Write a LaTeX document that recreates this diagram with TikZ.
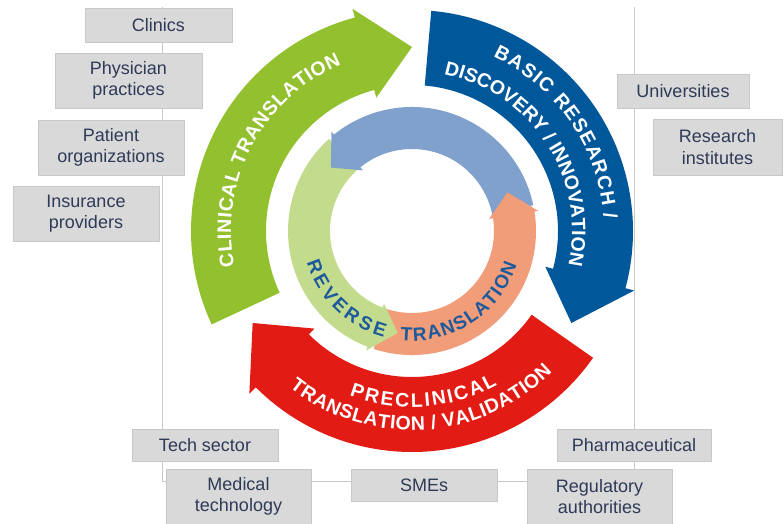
\documentclass[tikz,border=0pt]{standalone}
\usepackage{fontspec}
\setmainfont{Liberation Sans}
\usetikzlibrary{decorations.text}
\definecolor{cgreen}{RGB}{147,192,47}
\definecolor{cblue}{RGB}{0,88,155}
\definecolor{cred}{RGB}{226,27,20}
\definecolor{clblue}{RGB}{128,161,203}
\definecolor{clgreen}{RGB}{195,219,140}
\definecolor{csalmon}{RGB}{242,157,122}
\definecolor{ctext}{RGB}{28,90,156}
\definecolor{boxfill}{RGB}{217,217,217}
\definecolor{boxline}{RGB}{200,200,200}
\definecolor{boxtext}{RGB}{46,58,87}
\definecolor{frameline}{RGB}{200,200,200}
\newcommand{\boxfnt}{\fontsize{18}{21.6}\selectfont}
\newcommand{\bigtxt}{\fontsize{19.5}{19.5}\selectfont\bfseries}
\newcommand{\innertxt}{\fontsize{19}{19}\selectfont\bfseries}
\newcommand{\bigarrow}[2]{%
  \pgfmathsetmacro{\myba}{#2-100}\pgfmathsetmacro{\mybt}{#2-115}%
  \fill[#1] (#2:221) arc[start angle=#2, end angle=\myba, radius=221]
    -- (\myba:230) -- (\mybt:184) -- (\myba:138) -- (\myba:146)
    arc[start angle=\myba, end angle=#2, radius=146] -- cycle;}
\newcommand{\innerbody}[3]{%
  \pgfmathsetmacro{\myie}{#3+1}%
  \fill[#1] (#2:124) arc[start angle=#2, end angle=\myie, radius=124]
    -- (\myie:82) arc[start angle=\myie, end angle=#2, radius=82] -- cycle;}
\newcommand{\innerhead}[2]{%
  \pgfmathsetmacro{\myit}{#2+13}%
  \fill[#1] (#2:128) -- (\myit:103) -- (#2:78) -- cycle;}
\begin{document}
\begin{tikzpicture}[x=1pt,y=-1pt,
  box/.style={fill=boxfill, draw=boxline, line width=0.6pt, text=boxtext,
    font=\boxfnt, align=center, inner sep=0pt},
  frameln/.style={draw=frameline, line width=0.8pt}]
\useasboundingbox (0,0) rectangle (784,524);
\coordinate (f1) at (162,7);
\coordinate (f2) at (162,481);
\coordinate (f3) at (634,481);
\coordinate (f4) at (634,7);
\draw[frameln] (f1) -- (f2) -- (f3) -- (f4);

\begin{scope}[shift={(412,231)}, y=1pt]
  \bigarrow{cgreen}{205}
  \bigarrow{cblue}{85}
  \bigarrow{cred}{325}
  \innerbody{clblue}{12}{129}
  \innerbody{clgreen}{132}{249}
  \innerbody{csalmon}{252}{369}
  \innerhead{clblue}{129}
  \innerhead{clgreen}{249}
  \innerhead{csalmon}{369}
  \path[decorate, decoration={text along path, text align={fit to path},
      text color=white, text={|\bigtxt|CLINICAL TRANSLATION}}]
    (191.3:181) arc[start angle=191.3, end angle=113, radius=181];
  \path[decorate, decoration={text along path, text align={fit to path},
      text color=white, text={|\bigtxt|BASIC RESEARCH /}}]
    (65:192) arc[start angle=65, end angle=3.5, radius=192];
  \path[decorate, decoration={text along path, text align={fit to path},
      text color=white, text={|\bigtxt|DISCOVERY / INNOVATION}}]
    (78.5:160) arc[start angle=78.5, end angle=-11.2, radius=160];
  \path[decorate, decoration={text along path, text align={fit to path},
      text color=white, text={|\bigtxt|PRECLINICAL}}]
    (249.2:176) arc[start angle=249.2, end angle=299, radius=176];
  \path[decorate, decoration={text along path, text align={fit to path},
      text color=white, text={|\bigtxt|TRANSLATION / VALIDATION}}]
    (232:199) arc[start angle=232, end angle=314.8, radius=199];
  \path[decorate, decoration={text along path, text align={fit to path},
      text color=ctext, text={|\innertxt|REVERSE}}]
    (196.8:110) arc[start angle=196.8, end angle=255.3, radius=110];
  \path[decorate, decoration={text along path, text align={fit to path},
      text color=ctext, text={|\innertxt|TRANSLATION}}]
    (264:110) arc[start angle=264, end angle=342, radius=110];
\end{scope}

\node[box, minimum width=147pt, minimum height=34pt] (clinics) at (158.5,25) {Clinics};
\node[box, minimum width=147pt, minimum height=55pt] (physician) at (128.5,80.5) {Physician\\practices};
\node[box, minimum width=146pt, minimum height=55pt] (patient) at (111,147.5) {Patient\\organizations};
\node[box, minimum width=146pt, minimum height=55pt] (insurance) at (86,213.5) {Insurance\\providers};
\node[box, minimum width=132pt, minimum height=34pt] (univ) at (683,91) {Universities};
\node[box, minimum width=129pt, minimum height=56pt] (research) at (717.5,147) {Research\\institutes};
\node[box, minimum width=146pt, minimum height=32pt] (tech) at (205,445) {Tech sector};
\node[box, minimum width=154pt, minimum height=32pt] (pharma) at (634,445) {Pharmaceutical};
\node[box, minimum width=145pt, minimum height=55pt] (medtech) at (238.5,496.5) {Medical\\technology};
\node[box, minimum width=146pt, minimum height=32pt] (smes) at (424,485) {SMEs};
\node[box, minimum width=145pt, minimum height=55pt] (regul) at (599.5,496.5) {Regulatory\\authorities};
\end{tikzpicture}
\end{document}
